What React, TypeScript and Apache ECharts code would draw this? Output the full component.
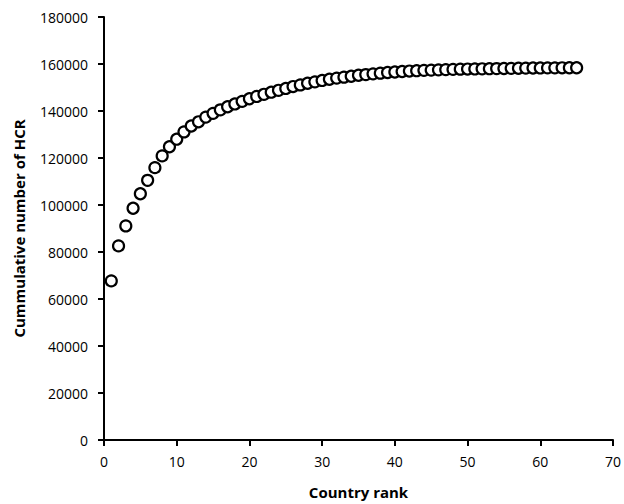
import React, { useEffect, useRef } from "react";
import * as echarts from "echarts";

const ranks: number[] = Array.from({ length: 65 }, (_, i) => i + 1);
const cumulativeHCR: number[] = [
  67700, 82600, 91100, 98600, 104800, 110500, 115900, 120900, 124800, 128000,
  131100, 133600, 135400, 137400, 139000, 140500, 141800, 143000, 144100, 145200,
  146200, 147100, 148000, 148800, 149600, 150400, 151100, 151800, 152400, 153000,
  153500, 154000, 154400, 154800, 155200, 155500, 155800, 156100, 156400, 156600,
  156800, 157000, 157150, 157300, 157400, 157500, 157600, 157700, 157800, 157850,
  157900, 157950, 158000, 158050, 158100, 158150, 158200, 158250, 158300, 158320,
  158340, 158360, 158380, 158400, 158420,
];
const xTitle = "Country rank";
const yTitle = "Cummulative number of HCR";

export default function App() {
  const ref = useRef<HTMLDivElement>(null);
  useEffect(() => {
    if (!ref.current) return;
    const chart = echarts.init(ref.current, null, { renderer: "svg" });
    const font = "'Open Sans', sans-serif";
    const axisCommon = {
      axisLine: { show: true, onZero: false, lineStyle: { color: "#000", width: 2 } },
      axisTick: { show: true, inside: false, length: 6, lineStyle: { color: "#000", width: 2 } },
      splitLine: { show: false },
      nameLocation: "middle" as const,
      nameTextStyle: { color: "#000", fontSize: 15, fontWeight: "bold" as const, fontFamily: font },
    };
    const labelStyle = {
      color: "#000",
      fontSize: 14,
      fontFamily: font,
      margin: 14,
      formatter: (v: number) => String(v),
    };
    chart.setOption({
      animation: false,
      backgroundColor: "#fff",
      grid: { left: 104, right: 7, top: 17, bottom: 64, containLabel: false },
      xAxis: {
        ...axisCommon,
        type: "value",
        min: 0,
        max: 70,
        interval: 10,
        name: xTitle,
        nameGap: 44,
        axisLabel: labelStyle,
      },
      yAxis: {
        ...axisCommon,
        type: "value",
        min: 0,
        max: 180000,
        interval: 20000,
        name: yTitle,
        nameGap: 78,
        nameRotate: 90,
        axisLabel: { ...labelStyle, margin: 16 },
      },
      series: [
        {
          type: "scatter",
          data: ranks.map((r, i) => [r, cumulativeHCR[i]]),
          symbol: "circle",
          symbolSize: 11,
          itemStyle: { color: "#ffffff", borderColor: "#000000", borderWidth: 2.2, opacity: 1 },
        },
      ],
    });
    return () => chart.dispose();
  }, []);
  return <div ref={ref} style={{ width: 624, height: 504, position: "absolute", left: 0, top: 0 }} />;
}
